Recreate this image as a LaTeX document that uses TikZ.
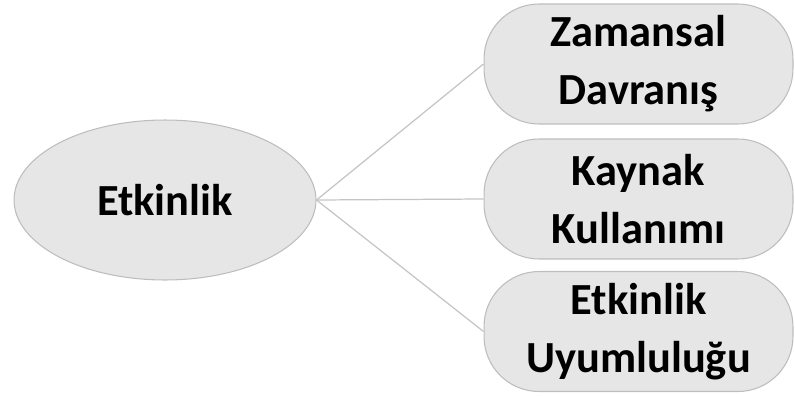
\documentclass[tikz,border=0pt]{standalone}
\usepackage{fontspec}
\setmainfont{Carlito}
\usetikzlibrary{shapes.geometric}
\definecolor{shapefill}{HTML}{E6E6E6}
\definecolor{shapeedge}{HTML}{BDBDBD}
\definecolor{linkgray}{HTML}{C4C4C4}
\tikzset{
  label font/.style={font=\bfseries\fontsize{25.3}{33}\selectfont, text=black, align=center},
  mainoval/.style={ellipse, draw=shapeedge, fill=shapefill, line width=0.6pt,
    minimum width=6.04cm, minimum height=3.2cm, inner sep=0pt, label font},
  leafbox/.style={rectangle, rounded corners=1.1cm, draw=shapeedge, fill=shapefill,
    line width=0.6pt, minimum width=6.18cm, minimum height=2.4cm, inner sep=0pt, label font},
  link/.style={draw=linkgray, line width=0.7pt}
}
\begin{document}
\begin{tikzpicture}[x=0.02cm,y=-0.02cm]
  \useasboundingbox (0,0) rectangle (795,396);
  \node[mainoval] (act) at (165,200) {Etkinlik};
  \node[leafbox] (time) at (638.5,64) {Zamansal\\Davranış};
  \node[leafbox] (res) at (638.5,199) {Kaynak\\Kullanımı};
  \node[leafbox] (fit) at (638.5,331.5) {Etkinlik\\Uyumluluğu};
  \draw[link] (act.east) -- (time.west);
  \draw[link] (act.east) -- (res.west);
  \draw[link] (act.east) -- (fit.west);
\end{tikzpicture}
\end{document}
